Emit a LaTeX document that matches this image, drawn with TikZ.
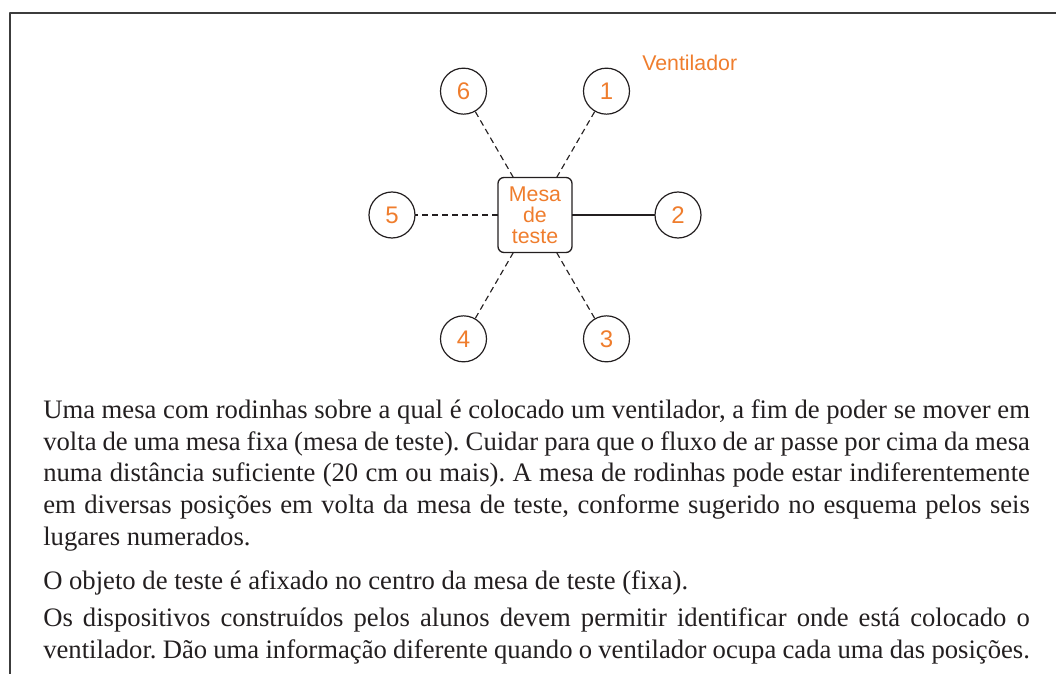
\documentclass[tikz,border=0pt]{standalone}
\usepackage{fontspec}
\setmainfont{Liberation Serif}
\setsansfont{Liberation Sans}
\usepackage{xcolor}
\usepackage{tikz}
\usetikzlibrary{positioning}
\definecolor{fanorange}{HTML}{EF7D2D}
\definecolor{ink}{HTML}{231F20}
\definecolor{framegray}{HTML}{3C3C3C}
\frenchspacing
\hyphenpenalty=10000
\exhyphenpenalty=10000
\tolerance=9999
\tikzset{
    every picture/.style={line join=round},
    posnode/.style={draw=ink,circle,line width=0.9pt,
      minimum size=34.5pt,inner sep=0pt,outer sep=0pt,
      text=fanorange,font=\sffamily\fontsize{18}{18}\selectfont},
    tablenode/.style={draw=ink,rounded corners=4.5pt,line width=1pt,
      minimum width=55.5pt,minimum height=56.25pt,inner sep=0pt,outer sep=0pt,
      align=center,text=fanorange,font=\sffamily\fontsize{16}{15.75}\selectfont},
    link/.style={draw=ink,line width=0.85pt},
    airpath/.style={link,dash pattern=on 4.5pt off 3pt},
    bodytext/.style={anchor=north west,inner sep=0pt,text width=740pt,
      align=justify,text=ink,font=\fontsize{20}{23.8}\selectfont}
}

\begin{document}
\begin{tikzpicture}
  \useasboundingbox (-401.25pt,-344.25pt) rectangle (390.75pt,161.25pt);
  % open frame
  \draw[framegray,line width=1.2pt] (-393.75pt,-350pt) -- (-393.75pt,151.5pt) -- (400pt,151.5pt);
  % test table and the six fan positions
  \node[tablenode] (mesa) at (0,0) {Mesa\\de\\teste};
  \node[posnode] (p1) at (60:107.25pt) {1};
  \node[posnode] (p2) at (0:107.25pt) {2};
  \node[posnode] (p3) at (-60:107.25pt) {3};
  \node[posnode] (p4) at (-120:107.25pt) {4};
  \node[posnode] (p5) at (180:107.25pt) {5};
  \node[posnode] (p6) at (120:107.25pt) {6};
  \node[anchor=west,inner sep=0pt,text=fanorange,
        font=\sffamily\fontsize{16}{16}\selectfont] (fanlabel) at (80.25pt,114pt) {Ventilador};
  \draw[airpath] (mesa) -- (p1);
  \draw[link] (mesa) -- (p2);
  \draw[airpath] (mesa) -- (p3);
  \draw[airpath] (mesa) -- (p4);
  \draw[airpath] (mesa) -- (p5);
  \draw[airpath] (mesa) -- (p6);
  % description
  \node[bodytext] (para1) at (-369pt,-135.6pt) {\strut Uma mesa com rodinhas sobre a qual é colocado um ventilador, a fim de poder se mover em\linebreak
    volta de uma mesa fixa (mesa de teste). Cuidar para que o fluxo de ar passe por cima da mesa\linebreak
    numa distância suficiente (20 cm ou mais). A mesa de rodinhas pode estar indiferentemente\linebreak
    em diversas posições em volta da mesa de teste, conforme sugerido no esquema pelos seis\linebreak
    lugares numerados.};
  \node[bodytext] (para2) at (-369pt,-263.84pt) {\strut O objeto de teste é afixado no centro da mesa de teste (fixa).};
  \node[bodytext] (para3) at (-369pt,-291.6pt) {\strut Os dispositivos construídos pelos alunos devem permitir identificar onde está colocado o\linebreak
    ventilador. Dão uma informação diferente quando o ventilador ocupa cada uma das posições.};
\end{tikzpicture}
\end{document}
